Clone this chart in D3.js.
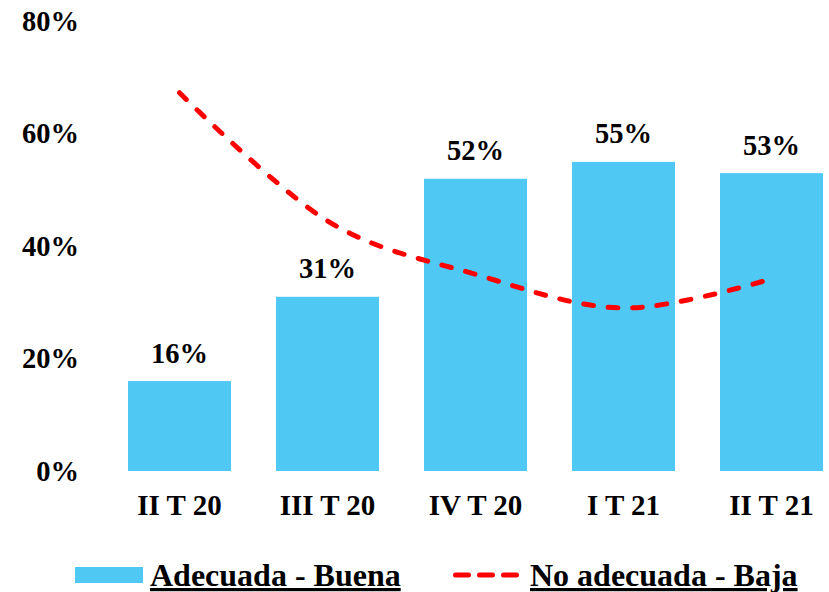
<!DOCTYPE html>
<html>
<head>
<meta charset="utf-8">
<script src="https://cdn.jsdelivr.net/npm/d3@7"></script>
<style>
  body { margin: 0; background: #fff; }
  svg text { font-family: "Liberation Serif", "Times New Roman", serif; font-weight: bold; fill: #000; }
  .domain { display: none; }
</style>
</head>
<body>
<svg id="chart" width="829" height="592"></svg>
<script>
var categories = ["II T 20", "III T 20", "IV T 20", "I T 21", "II T 21"];
var adecuada = [16, 31, 52, 55, 53];
var noAdecuada = [67.3, 44.5, 35, 29, 34.2];
var yTicks = [0, 20, 40, 60, 80];
var legendNames = ["Adecuada - Buena", "No adecuada - Baja"];

var barColor = "#4FC8F4";
var lineColor = "#FF0000";

var svg = d3.select("#chart");

var xScale = d3.scaleBand()
    .domain(categories)
    .range([105.5, 845.5])
    .paddingInner(0.304)
    .paddingOuter(0.152);

var yScale = d3.scaleLinear()
    .domain([0, 80])
    .range([471, 21.4]);

// y axis labels only
svg.append("g")
    .attr("transform", "translate(79,0)")
    .call(d3.axisLeft(yScale).tickValues(yTicks).tickSize(0).tickPadding(0)
        .tickFormat(function (d) { return d + "%"; }))
    .selectAll("text")
    .style("font-size", "28.5px");

// bars
svg.append("g")
    .selectAll("rect")
    .data(adecuada)
    .enter()
    .append("rect")
    .attr("x", function (d, i) { return xScale(categories[i]); })
    .attr("y", function (d) { return yScale(d); })
    .attr("width", xScale.bandwidth())
    .attr("height", function (d) { return yScale(0) - yScale(d); })
    .attr("fill", barColor);

// bar labels
svg.append("g")
    .selectAll("text")
    .data(adecuada)
    .enter()
    .append("text")
    .attr("x", function (d, i) { return xScale(categories[i]) + xScale.bandwidth() / 2; })
    .attr("y", function (d) { return yScale(d) - 18.5; })
    .attr("text-anchor", "middle")
    .style("font-size", "28.5px")
    .text(function (d) { return d + "%"; });

// category axis
svg.append("g")
    .attr("transform", "translate(0," + yScale(0) + ")")
    .call(d3.axisBottom(xScale).tickSize(0))
    .selectAll("text")
    .attr("y", 44)
    .attr("dy", null)
    .style("font-size", "29px");

// smoothed dashed line
var line = d3.line()
    .x(function (d, i) { return xScale(categories[i]) + xScale.bandwidth() / 2; })
    .y(function (d) { return yScale(d); })
    .curve(d3.curveCatmullRom.alpha(0));

var path = svg.append("path")
    .datum(noAdecuada)
    .attr("d", line)
    .attr("fill", "none")
    .attr("stroke", lineColor)
    .attr("stroke-width", 5)
    .attr("stroke-linecap", "round");

// stretch the dash pattern a little so the line ends inside a gap
var len = path.node().getTotalLength();
var n = Math.round((len - 19.5) / 25);
var period = (len - 19.5) / n;
path.attr("stroke-dasharray", (period * 0.4) + " " + (period * 0.6));

// legend
var legend = svg.append("g");
legend.append("rect")
    .attr("x", 75).attr("y", 567)
    .attr("width", 68).attr("height", 16)
    .attr("fill", barColor);
legend.append("text")
    .attr("x", 150).attr("y", 586)
    .style("font-size", "32px")
    .style("text-decoration", "underline")
    .text(legendNames[0]);
legend.append("line")
    .attr("x1", 455.5).attr("x2", 516.5)
    .attr("y1", 575).attr("y2", 575)
    .attr("stroke", lineColor)
    .attr("stroke-width", 5)
    .attr("stroke-linecap", "round")
    .attr("stroke-dasharray", "13 11");
legend.append("text")
    .attr("x", 530).attr("y", 586)
    .style("font-size", "32px")
    .style("text-decoration", "underline")
    .text(legendNames[1]);
</script>
</body>
</html>
